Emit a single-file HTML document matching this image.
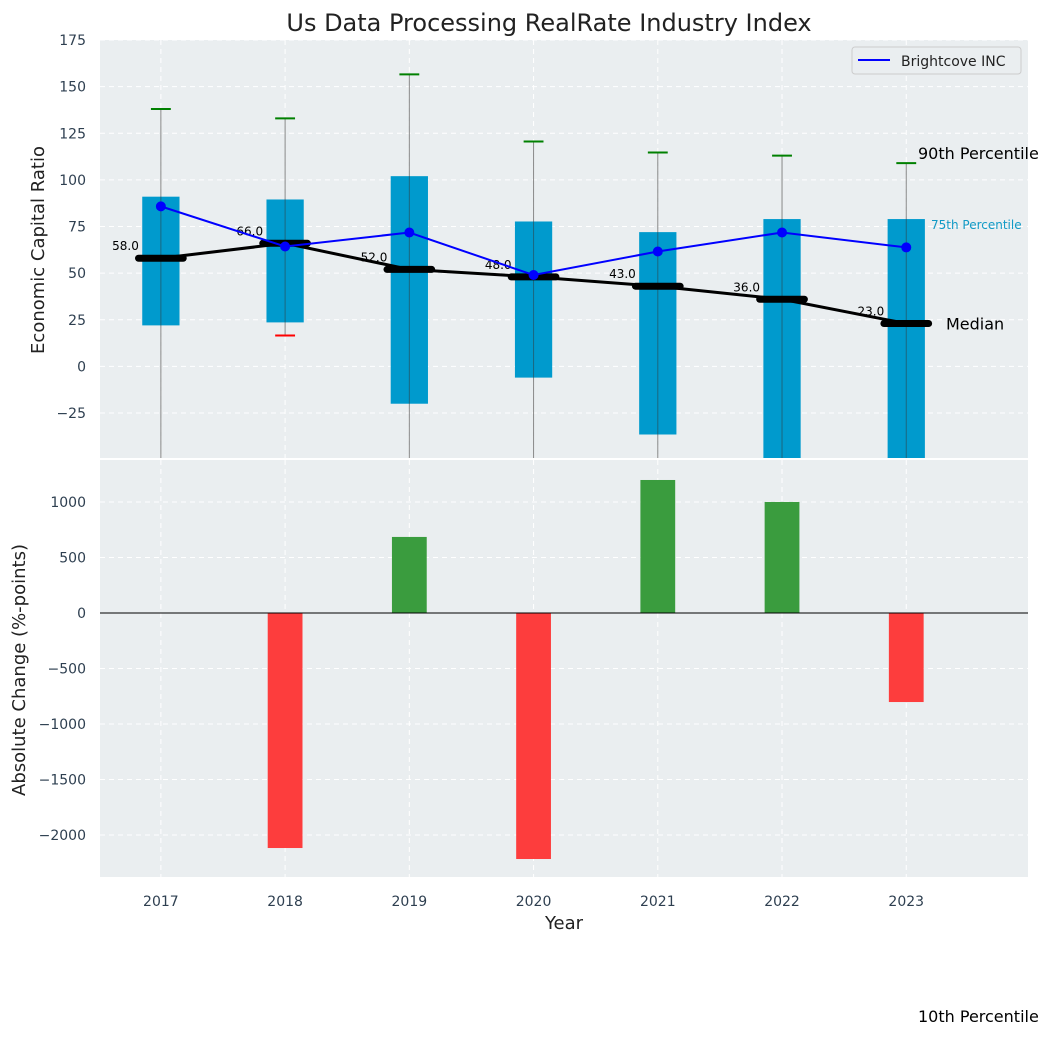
<!DOCTYPE html>
<html><head><meta charset="utf-8"><style>
body{margin:0;background:#fff}
svg text{font-family:"DejaVu Sans","Liberation Sans",sans-serif}
</style></head><body>
<svg id="c" width="1053" height="1035" xmlns="http://www.w3.org/2000/svg"></svg>
<script>
const years=[2017,2018,2019,2020,2021,2022,2023];
const q75=[91,89.5,102,77.7,72,79,79];
const q25=[22,23.6,-20,-6,-36.5,-60,-60];
const p90=[138,133,156.6,120.6,114.7,113,109];
const p10=[-70,16.6,-70,-70,-70,-70,-70];
const medians=[58,66,52,48,43,36,23];
const company=[85.8,64.3,71.8,49,61.6,71.8,63.8];
const changes=[0,-2117,685,-2216,1198,1000,-802];
const yTicksTop=[-25,0,25,50,75,100,125,150,175];
const yTicksBot=[-2000,-1500,-1000,-500,0,500,1000];

const NS="http://www.w3.org/2000/svg";
const svg=document.getElementById('c');
function el(t,a,p){const e=document.createElementNS(NS,t);for(const k in a)e.setAttribute(k,a[k]);(p||svg).appendChild(e);return e;}
const L=100,R=1028,T1=40,B1=458,T2=460,B2=877;
const xs=v=>L+(v-2016.51)/(2023.98-2016.51)*(R-L);
const y1=v=>T1+(175-v)/(175-(-49.1))*(B1-T1);
const y2=v=>T2+(1378-v)/(1378-(-2378))*(B2-T2);
let r=el('rect',{x:L,y:T1,width:R-L,height:B1-T1,fill:'#eaeef0'});


r=el('rect',{x:L,y:T2,width:R-L,height:B2-T2,fill:'#eaeef0'});


const gTop=el('g',{});const gBot=el('g',{});
yTicksTop.forEach(v=>{const y=y1(v);el('line',{x1:L,x2:R,y1:y,y2:y,stroke:'#fff','stroke-dasharray':'5,4','stroke-width':1},gTop);
 const t=el('text',{x:L-14,y:y+5,'text-anchor':'end','font-size':14,fill:'#2e3f50'},gTop);t.textContent=v<0?'\u2212'+(-v):v;
 
 });
yTicksBot.forEach(v=>{const y=y2(v);el('line',{x1:L,x2:R,y1:y,y2:y,stroke:'#fff','stroke-dasharray':'5,4','stroke-width':1},gBot);
 const t=el('text',{x:L-14,y:y+5,'text-anchor':'end','font-size':14,fill:'#2e3f50'},gBot);t.textContent=v<0?'\u2212'+(-v):v;
 
 });
years.forEach(yr=>{const x=xs(yr);
 el('line',{x1:x,x2:x,y1:T1,y2:B1,stroke:'#fff','stroke-dasharray':'5,4'},gTop);
 el('line',{x1:x,x2:x,y1:T2,y2:B2,stroke:'#fff','stroke-dasharray':'5,4'},gBot);
 const t=el('text',{x:x,y:906,'text-anchor':'middle','font-size':14,fill:'#2e3f50'});t.textContent=yr;
 
 });
const defs=el('defs',{});
const cp=el('clipPath',{id:'cp1'},defs);el('rect',{x:L,y:T1,width:R-L,height:B1-T1},cp);
const g=el('g',{'clip-path':'url(#cp1)'});
const bw=0.3;
years.forEach((yr,i)=>{const x=xs(yr);
 const w=el('line',{x1:x,x2:x,y1:y1(p90[i]),y2:y1(p10[i]),stroke:'#888','stroke-width':1},g);
 
 
 const b=el('rect',{x:xs(yr-bw/2),y:y1(q75[i]),width:xs(yr+bw/2)-xs(yr-bw/2),height:y1(q25[i])-y1(q75[i]),fill:'#009acd'},g);
 
 
 el('line',{x1:x,x2:x,y1:y1(q75[i]),y2:y1(q25[i]),stroke:'#333','stroke-opacity':0.5,'stroke-width':1},g);
 el('line',{x1:xs(yr-0.08),x2:xs(yr+0.08),y1:y1(p90[i]),y2:y1(p90[i]),stroke:'green','stroke-width':2},g);
 el('line',{x1:xs(yr-0.08),x2:xs(yr+0.08),y1:y1(p10[i]),y2:y1(p10[i]),stroke:'red','stroke-width':2},g);
});
el('polyline',{points:years.map((yr,i)=>xs(yr)+','+y1(medians[i])).join(' '),fill:'none',stroke:'#000','stroke-width':3},g);
years.forEach((yr,i)=>{const y=y1(medians[i]);
 const m=el('line',{x1:xs(yr-0.18),x2:xs(yr+0.18),y1:y,y2:y,stroke:'#000','stroke-width':7,'stroke-linecap':'round'},g);
 
 
 const t=el('text',{x:xs(yr)-22,y:y-8,'text-anchor':'end','font-size':12,fill:'#000'},g);t.textContent=medians[i].toFixed(1);
 
 });
const cl=el('polyline',{points:years.map((yr,i)=>xs(yr)+','+y1(company[i])).join(' '),fill:'none',stroke:'blue','stroke-width':2},g);


years.forEach((yr,i)=>{const c=el('circle',{cx:xs(yr),cy:y1(company[i]),r:5,fill:'blue'},g);
 
 });
const last=years.length-1;
let t=el('text',{x:918,y:y1(p90[last])-4,'font-size':16,fill:'#000'});t.textContent='90th Percentile';


t=el('text',{x:931,y:y1(q75[last])+10,'font-size':12,fill:'#119ac6'});t.textContent='75th Percentile';


t=el('text',{x:946,y:y1(medians[last])+6,'font-size':16,fill:'#000'});t.textContent='Median';


t=el('text',{x:918,y:1022,'font-size':16,fill:'#000'});t.textContent='10th Percentile';


const lg=el('g',{});


el('rect',{x:852,y:47,width:169,height:27,rx:3,fill:'#eaeef0',stroke:'#ccc'},lg);
el('line',{x1:858,x2:890,y1:60,y2:60,stroke:'blue','stroke-width':2},lg);
t=el('text',{x:901,y:66,'font-size':14,fill:'#222'},lg);t.textContent='Brightcove INC';
years.forEach((yr,i)=>{const v=changes[i];const y0=y2(0),yv=y2(v);
 const b=el('rect',{x:xs(yr-0.14),y:Math.min(y0,yv),width:xs(yr+0.14)-xs(yr-0.14),height:Math.abs(yv-y0),fill:v>=0?'#3a9c3e':'#fd3d3d'},gBot);
 
 });
el('line',{x1:L,x2:R,y1:y2(0),y2:y2(0),stroke:'#000','stroke-width':1},gBot);
t=el('text',{x:549,y:31,'text-anchor':'middle','font-size':24,fill:'#222'});t.textContent='Us Data Processing RealRate Industry Index';


t=el('text',{x:0,y:0,'text-anchor':'middle','font-size':18,fill:'#222',transform:'translate(44,250) rotate(-90)'});t.textContent='Economic Capital Ratio';


t=el('text',{x:0,y:0,'text-anchor':'middle','font-size':18,fill:'#222',transform:'translate(25,670) rotate(-90)'});t.textContent='Absolute Change (%-points)';


t=el('text',{x:564,y:929,'text-anchor':'middle','font-size':18,fill:'#222'});t.textContent='Year';


</script>
</body></html>
